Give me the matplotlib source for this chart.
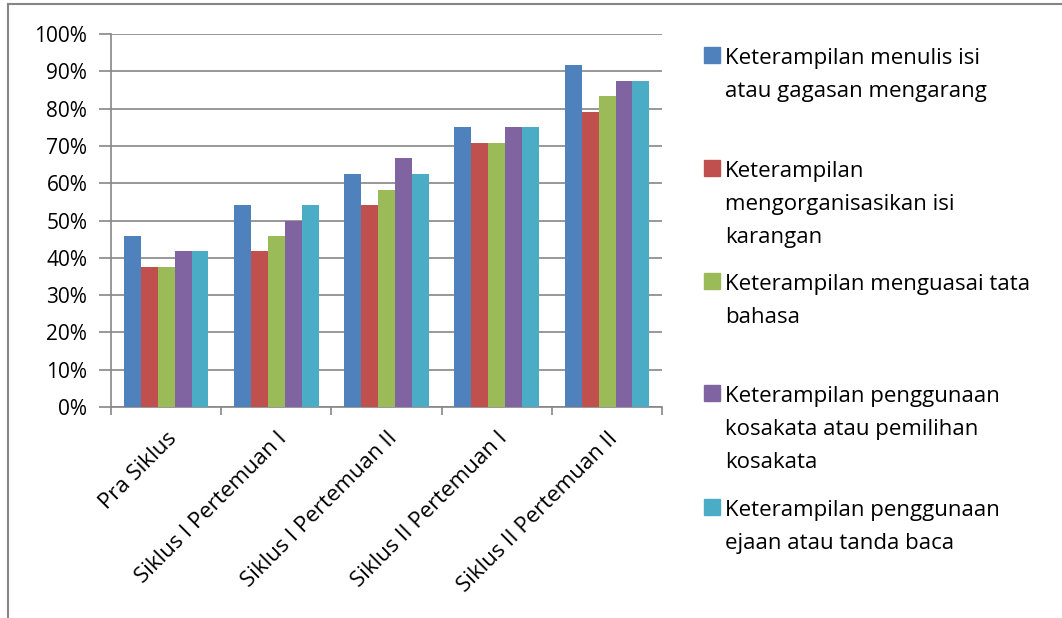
import matplotlib.pyplot as plt
import numpy as np
from matplotlib.patches import Rectangle
from matplotlib.lines import Line2D

plt.rcParams["font.family"] = ["Open Sans", "DejaVu Sans"]

categories = [
    "Pra Siklus",
    "Siklus I Pertemuan I",
    "Siklus I Pertemuan II",
    "Siklus II Pertemuan I",
    "Siklus II Pertemuan II",
]
series_names = [
    ["Keterampilan menulis isi", "atau gagasan mengarang"],
    ["Keterampilan", "mengorganisasikan isi", "karangan"],
    ["Keterampilan menguasai tata", "bahasa"],
    ["Keterampilan penggunaan", "kosakata atau pemilihan", "kosakata"],
    ["Keterampilan penggunaan", "ejaan atau tanda baca"],
]
menulis = [45.8, 54.2, 62.5, 75.0, 91.7]
organisasi = [37.5, 41.7, 54.2, 70.8, 79.2]
tata_bahasa = [37.5, 45.8, 58.3, 70.8, 83.3]
kosakata = [41.7, 50.0, 66.7, 75.0, 87.5]
ejaan = [41.7, 54.2, 62.5, 75.0, 87.5]
series = [menulis, organisasi, tata_bahasa, kosakata, ejaan]
colors = ["#4F81BD", "#C0504D", "#9BBB59", "#8064A2", "#4BACC6"]

fig = plt.figure(figsize=(10.62, 6.18), dpi=100)
ax = fig.add_axes([0.1045, 0.3414, 0.519, 0.6036])

x = np.arange(len(categories))
bar_w = 1 / 6.5
for i, (vals, c) in enumerate(zip(series, colors)):
    ax.bar(x + (i - 2) * bar_w, vals, width=bar_w, color=c, zorder=3)

ax.set_xlim(-0.5, len(categories) - 0.5)
ax.set_ylim(0, 100)
ax.set_yticks(np.arange(0, 101, 10))
ax.set_yticklabels([f"{v}%" for v in range(0, 101, 10)], fontsize=15)
ax.yaxis.grid(True, color="#868686", linewidth=1.2, zorder=0)

ax.set_xticks(np.arange(-0.5, len(categories), 1.0))
ax.set_xticklabels([])
ax.set_xticks(x, minor=True)
ax.set_xticklabels(categories, minor=True, rotation=45, ha="right",
                   rotation_mode="anchor", fontsize=16)
ax.tick_params(axis="x", which="minor", length=0, pad=15)
ax.tick_params(axis="x", which="major", length=6, color="#868686", width=1.2)
ax.tick_params(axis="y", length=9, color="#868686", width=1.2, pad=8)

for s in ["top", "right"]:
    ax.spines[s].set_visible(False)
for s in ["left", "bottom"]:
    ax.spines[s].set_color("#868686")
    ax.spines[s].set_linewidth(1.2)

# legend drawn by hand, Excel style (pixel baselines of first line)
W, H = 1062, 618
legend_base = [64, 177, 290, 402, 516]
line_step = 33
for lines, c, base in zip(series_names, colors, legend_base):
    fig.patches.append(Rectangle((704 / W, 1 - (base - 1) / H), 16 / W, 16 / H,
                                 transform=fig.transFigure, color=c))
    for k, line in enumerate(lines):
        fig.text(725 / W, 1 - (base + k * line_step) / H, line, fontsize=16,
                 va="baseline", ha="left", color="#000000")

# outer chart border
fig.add_artist(Line2D([8 / W, 1], [1 - 4 / H, 1 - 4 / H], color="#868686",
                      linewidth=1.5, transform=fig.transFigure))
fig.add_artist(Line2D([8 / W, 8 / W], [0, 1 - 4 / H], color="#868686",
                      linewidth=1.5, transform=fig.transFigure))

fig.savefig("out.png", dpi=100)
